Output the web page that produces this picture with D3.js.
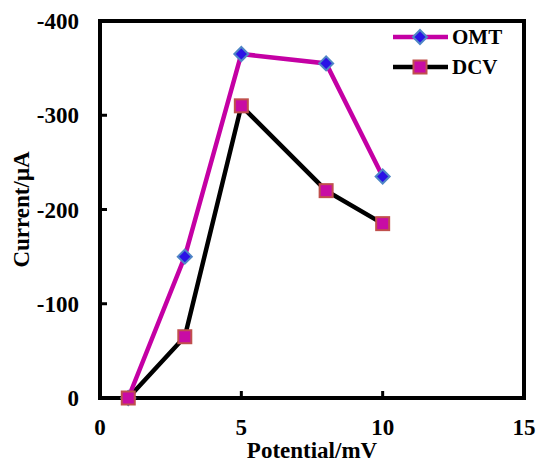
<!DOCTYPE html>
<html>
<head>
<meta charset="utf-8">
<script src="https://cdn.jsdelivr.net/npm/d3@7"></script>
<style>
body { margin: 0; background: #fff; }
text { font-family: "Liberation Serif", "Times New Roman", serif; font-weight: bold; }
</style>
</head>
<body>
<div id="chart"></div>
<script>
// data
var potential = [1, 3, 5, 8, 10];
var omt = [0, -150, -365, -355, -235];
var dcv = [0, -65, -310, -220, -185];
var xTicks = [0, 5, 10, 15];
var yTicks = [0, -100, -200, -300, -400];

var m = [21, 12, 67, 100]; // top right bottom left
var W = 536, H = 465;
var w = W - m[1] - m[3];
var h = H - m[0] - m[2];

var x = d3.scaleLinear().domain([0, 15]).range([0, w]);
var y = d3.scaleLinear().domain([0, -400]).range([h, 0]);

var svg = d3.select("#chart").append("svg")
	.attr("width", W)
	.attr("height", H);

var g = svg.append("g")
	.attr("transform", "translate(" + m[3] + "," + m[0] + ")");

// frame
g.append("rect")
	.attr("width", w)
	.attr("height", h)
	.attr("fill", "none")
	.attr("stroke", "#000")
	.attr("stroke-width", 4);

// ticks (inward)
g.append("g").selectAll("line")
	.data(xTicks.slice(1, -1))
	.enter().append("line")
	.attr("x1", function(d) {return x(d);})
	.attr("x2", function(d) {return x(d);})
	.attr("y1", h)
	.attr("y2", h - 7)
	.attr("stroke", "#000")
	.attr("stroke-width", 3);

g.append("g").selectAll("line")
	.data(yTicks.slice(1, -1))
	.enter().append("line")
	.attr("x1", 0)
	.attr("x2", 7)
	.attr("y1", function(d) {return y(d);})
	.attr("y2", function(d) {return y(d);})
	.attr("stroke", "#000")
	.attr("stroke-width", 3);

// tick labels
g.append("g").selectAll("text")
	.data(xTicks)
	.enter().append("text")
	.text(function(d) {return d;})
	.attr("x", function(d) {return x(d);})
	.attr("y", h + 37)
	.attr("text-anchor", "middle")
	.attr("font-size", 23);

g.append("g").selectAll("text")
	.data(yTicks)
	.enter().append("text")
	.text(function(d) {return d;})
	.attr("x", -21)
	.attr("y", function(d) {return y(d);})
	.attr("dy", "0.35em")
	.attr("text-anchor", "end")
	.attr("font-size", 23);

// axis titles
g.append("text")
	.text("Potential/mV")
	.attr("x", w / 2)
	.attr("y", h + 60)
	.attr("text-anchor", "middle")
	.attr("font-size", 23);

g.append("text")
	.text("Current/μA")
	.attr("transform", "translate(" + (-71) + "," + (h / 2) + ") rotate(-90)")
	.attr("text-anchor", "middle")
	.attr("font-size", 23);

var series = [
	{name: "OMT", values: omt, line: "#c400a4", marker: "diamond", fill: "#2a12e6", stroke: "#4f86c6"},
	{name: "DCV", values: dcv, line: "#000000", marker: "square", fill: "#c80ca4", stroke: "#c0504d"}
];

var line = d3.line()
	.x(function(d) {return x(d[0]);})
	.y(function(d) {return y(d[1]);});

function drawMarker(sel, s) {
	if (s.marker === "diamond") {
		sel.append("path")
			.attr("d", "M0,-7L7,0L0,7L-7,0Z")
			.attr("fill", s.fill)
			.attr("stroke", s.stroke)
			.attr("stroke-width", 2);
	} else {
		sel.append("rect")
			.attr("x", -6.5).attr("y", -6.5)
			.attr("width", 13).attr("height", 13)
			.attr("fill", s.fill)
			.attr("stroke", s.stroke)
			.attr("stroke-width", 2);
	}
}

// draw DCV first, OMT on top
series.slice().reverse().forEach(function(s) {
	var pts = potential.map(function(p, i) {return [p, s.values[i]];});
	g.append("path")
		.datum(pts)
		.attr("d", line)
		.attr("fill", "none")
		.attr("stroke", s.line)
		.attr("stroke-width", 4.5);
});
series.forEach(function(s) {
	var pts = potential.map(function(p, i) {return [p, s.values[i]];});
	g.append("g").selectAll("g")
		.data(pts)
		.enter().append("g")
		.attr("transform", function(d) {return "translate(" + x(d[0]) + "," + y(d[1]) + ")";})
		.each(function() {drawMarker(d3.select(this), s);});
});

// legend
var leg = g.append("g").attr("transform", "translate(" + (w - 131) + ",16)");
series.forEach(function(s, i) {
	var r = leg.append("g").attr("transform", "translate(0," + (i * 30) + ")");
	r.append("line")
		.attr("x1", 0).attr("x2", 55)
		.attr("stroke", s.line)
		.attr("stroke-width", 4.5);
	drawMarker(r.append("g").attr("transform", "translate(27,0)"), s);
	r.append("text")
		.text(s.name)
		.attr("x", 59)
		.attr("dy", "0.35em")
		.attr("font-size", 21);
});
</script>
</body>
</html>
